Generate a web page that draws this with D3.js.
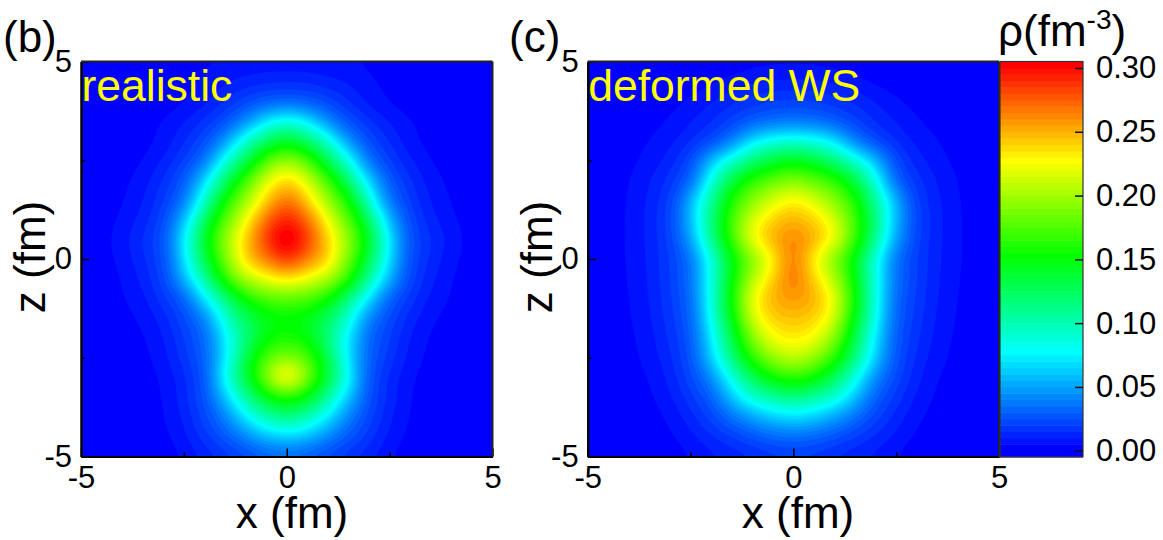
<!DOCTYPE html>
<html><head><meta charset="utf-8">
<script src="https://cdnjs.cloudflare.com/ajax/libs/d3/7.8.5/d3.min.js"></script>
<style>html,body{margin:0;padding:0;background:#fff}svg{display:block}text{font-family:"Liberation Sans",Arial,sans-serif;fill:#000}</style>
</head><body><div id="chart"></div>
<script>
// Half-plane density readings: columns x = 0..5 (mirror-symmetric), rows z = 5..-5
const xColumns = [0,0.5,1,1.5,2,2.5,3,3.5,4,4.5,5];
const zRows = [5,4.5,4,3.5,3,2.5,2,1.5,1,0.5,0,-0.5,-1,-1.5,-2,-2.5,-3,-3.5,-4,-4.5,-5];
const realisticDensity = [
[.0065,.0065,.006,.0055,.004,.002,.001,0,0,0,0],
[.014,.0135,.0115,.009,.006,.0035,.0015,.0005,0,0,0],
[.03,.028,.022,.015,.008,.0045,.002,.001,.0003,0,0],
[.085,.07,.042,.025,.016,.0095,.0055,.0025,.001,0,0],
[.14,.12,.09,.045,.024,.014,.0065,.003,.001,0,0],
[.195,.175,.125,.085,.035,.02,.0105,.005,.002,.001,0],
[.24,.215,.17,.12,.065,.028,.0155,.0075,.0035,.0012,.0005],
[.27,.24,.195,.155,.09,.036,.019,.0095,.0045,.0018,.0007],
[.295,.27,.225,.175,.125,.056,.023,.012,.006,.0025,.001],
[.315,.285,.24,.195,.14,.072,.026,.0155,.008,.003,.001],
[.29,.265,.24,.185,.13,.068,.024,.014,.0065,.0028,.001],
[.235,.222,.205,.165,.105,.055,.022,.0115,.0052,.002,.0008],
[.18,.175,.155,.115,.07,.03,.018,.0085,.0045,.0015,.0005],
[.15,.145,.125,.09,.04,.024,.0125,.006,.003,.001,0],
[.16,.15,.115,.072,.032,.02,.0095,.0043,.002,.0007,0],
[.19,.175,.13,.07,.03,.018,.008,.0035,.0015,0,0],
[.245,.19,.135,.08,.027,.0135,.0058,.0025,.001,0,0],
[.16,.145,.105,.06,.026,.013,.005,.002,.0007,0,0],
[.115,.1,.072,.04,.022,.011,.0045,.0018,.0006,0,0],
[.065,.058,.042,.028,.018,.0085,.0035,.0012,0,0,0],
[.03,.028,.022,.016,.011,.0055,.002,.0008,0,0,0]];
const deformedDensity = [
[.0035,.0035,.003,.002,.001,.0005,0,0,0,0,0],
[.011,.0105,.009,.0065,.004,.002,.001,0,0,0,0],
[.02,.0195,.017,.014,.0095,.006,.003,.0015,.0005,0,0],
[.036,.034,.028,.021,.014,.0095,.0055,.003,.0015,.0005,0],
[.088,.082,.07,.038,.023,.014,.0085,.005,.0025,.001,0],
[.145,.135,.115,.09,.057,.024,.012,.007,.0035,.0015,.0005],
[.19,.178,.165,.13,.085,.03,.017,.0095,.0048,.002,.001],
[.23,.215,.19,.16,.105,.055,.02,.011,.0052,.0023,.001],
[.25,.24,.215,.17,.115,.055,.022,.012,.0055,.0025,.001],
[.265,.25,.225,.17,.11,.05,.021,.0115,.0055,.0025,.001],
[.27,.228,.19,.145,.085,.035,.02,.011,.0055,.0025,.001],
[.27,.24,.205,.148,.085,.035,.02,.0105,.0052,.0023,.001],
[.258,.25,.222,.155,.085,.032,.019,.01,.0048,.002,.0008],
[.245,.24,.215,.145,.082,.03,.018,.009,.0044,.0018,.0007],
[.232,.225,.19,.13,.07,.028,.016,.008,.0038,.0015,.0006],
[.21,.195,.165,.115,.063,.026,.014,.007,.0032,.0012,.0005],
[.165,.155,.125,.085,.042,.023,.0115,.005,.0025,.001,0],
[.115,.105,.09,.06,.03,.018,.009,.004,.0018,.0007,0],
[.068,.062,.05,.035,.022,.013,.006,.0028,.0012,0,0],
[.035,.032,.026,.02,.014,.0085,.004,.0018,.0007,0,0],
[.018,.017,.014,.011,.0085,.005,.002,.001,0,0,0]];
const axisTicks = [-5,0,5];
const axisMinorTicks = [-2.5,2.5];
const colorTicks = [0,0.05,0.10,0.15,0.20,0.25,0.30];
const colorStops = [0,0.075,0.15,0.225,0.30];
const colorStopValues = ["#0000ff","#00ffff","#00ff00","#ffff00","#ff0000"];
const levels = d3.range(0,61).map(i=>i*0.005);

const W=1163,H=540;
const svg=d3.select("#chart").append("svg").attr("width",W).attr("height",H);
const color=d3.scaleLinear().domain(colorStops).range(colorStopValues).clamp(true);
const FS_TICK=31,FS_TITLE=44,FS_NOTE=44.5;

// smoothing of the read-off grid for rendering only (log-space, then a light blur)
const EPS=0.001;
function cr(p0,p1,p2,p3,t){return 0.5*(2*p1+(p2-p0)*t+(2*p0-5*p1+4*p2-p3)*t*t+(3*p1-p0-3*p2+p3)*t*t*t);}
function fullRows(half){return half.map(r=>r.slice(1).reverse().concat(r).map(v=>Math.log(v+EPS)));}
function upsample(rows,k){
  const ny=rows.length,nx=rows[0].length,mx=(nx-1)*k+1,my=(ny-1)*k+1,out=new Float64Array(mx*my);
  const g=(j,i)=>rows[Math.max(0,Math.min(ny-1,j))][Math.max(0,Math.min(nx-1,i))];
  for(let b=0;b<my;b++){const fy=b/k,j=Math.min(ny-2,Math.floor(fy)),ty=fy-j;
    for(let a=0;a<mx;a++){const fx=a/k,i=Math.min(nx-2,Math.floor(fx)),tx=fx-i,col=[];
      for(let s=-1;s<=2;s++)col.push(cr(g(j+s,i-1),g(j+s,i),g(j+s,i+1),g(j+s,i+2),tx));
      out[b*mx+a]=Math.exp(cr(col[0],col[1],col[2],col[3],ty))-EPS;}}
  d3.blur2({data:out,width:mx,height:my},3);
  return {values:out,mx,my};
}

function panel(id,left,right,top,bottom,density,note,tag,tagX,titleX,zTitleX){
  const x=d3.scaleLinear().domain([-5,5]).range([left,right]);
  const z=d3.scaleLinear().domain([-5,5]).range([bottom,top]);
  const g=svg.append("g");
  svg.append("clipPath").attr("id",id).append("rect").attr("x",left).attr("y",top).attr("width",right-left).attr("height",bottom-top);
  const map=g.append("g").attr("clip-path",`url(#${id})`);
  map.append("rect").attr("x",left).attr("y",top).attr("width",right-left).attr("height",bottom-top).attr("fill",color(0));
  const {values,mx,my}=upsample(fullRows(density),8);
  const contours=d3.contours().size([mx,my]).smooth(true).thresholds(levels.slice(1))(values);
  const path=d3.geoPath(d3.geoTransform({point(px,py){
    this.stream.point(x(-5+(px-0.5)*10/(mx-1)),z(5-(py-0.5)*10/(my-1)));}}));
  map.selectAll("path").data(contours).join("path").attr("d",path).attr("fill",d=>color(d.value)).attr("stroke",d=>color(d.value)).attr("stroke-width",0.3);
  // axes
  const ax=g.append("g").attr("transform",`translate(0,${bottom})`).call(d3.axisBottom(x).tickValues(axisTicks).tickFormat(String).tickSizeInner(-8).tickSizeOuter(0).tickPadding(9));
  const ay=g.append("g").attr("transform",`translate(${left},0)`).call(d3.axisLeft(z).tickValues(axisTicks).tickFormat(String).tickSizeInner(-8).tickSizeOuter(0).tickPadding(9));
  const mxA=g.append("g").attr("transform",`translate(0,${bottom})`).call(d3.axisBottom(x).tickValues(axisMinorTicks).tickFormat("").tickSizeInner(-4).tickSizeOuter(0));
  const myA=g.append("g").attr("transform",`translate(${left},0)`).call(d3.axisLeft(z).tickValues(axisMinorTicks).tickFormat("").tickSizeInner(-4).tickSizeOuter(0));
  [ax,ay,mxA,myA].forEach(a=>{a.selectAll("text").attr("font-size",FS_TICK).attr("font-family",'"Liberation Sans"');a.selectAll("line").attr("stroke","#000").attr("stroke-width",1.5);a.select(".domain").attr("stroke","#000").attr("stroke-width",2);});
  g.append("line").attr("x1",left).attr("x2",right).attr("y1",top).attr("y2",top).attr("stroke","#222").attr("stroke-width",2);
  g.append("line").attr("x1",right).attr("x2",right).attr("y1",top).attr("y2",bottom).attr("stroke","#222").attr("stroke-width",2);
  g.append("text").attr("x",left+0.5).attr("y",101).attr("font-size",FS_NOTE).style("fill","#ffff00").text(note);
  g.append("text").attr("x",tagX).attr("y",52).attr("font-size",FS_TITLE).text(tag);
  g.append("text").attr("x",titleX).attr("y",528).attr("text-anchor","middle").attr("font-size",FS_TITLE).text("x (fm)");
  g.append("text").attr("transform",`translate(${zTitleX},257) rotate(-90)`).attr("text-anchor","middle").attr("font-size",FS_TITLE).text("z (fm)");
}
panel("clipB",81,492.5,61.5,456.5,realisticDensity,"realistic","(b)",3,292,45);
panel("clipC",587.7,999,61.5,456.5,deformedDensity,"deformed WS","(c)",509,798,552);

// colour bar
const cbL=1000,cbR=1083;
const cy=d3.scaleLinear().domain([0,0.30]).range([450.7,68]);
const bar=svg.append("g");
const bands=[-0.005].concat(levels);
bar.selectAll("rect").data(bands).join("rect")
  .attr("x",cbL).attr("width",cbR-cbL)
  .attr("y",d=>Math.max(61.5,cy(d+0.005)))
  .attr("height",d=>cy(d)-Math.max(61.5,cy(d+0.005))+0.5)
  .attr("fill",d=>color(Math.max(0,d)));
bar.append("rect").attr("x",cbL).attr("y",61.5).attr("width",cbR-cbL).attr("height",395.2).attr("fill","none").attr("stroke","#333").attr("stroke-width",1.2);
const cAxis=bar.append("g").attr("transform",`translate(${cbR},0)`).call(d3.axisRight(cy).tickValues(colorTicks).tickFormat(d3.format(".2f")).tickSizeInner(-8).tickSizeOuter(0).tickPadding(13));
cAxis.select(".domain").remove();
cAxis.selectAll("text").attr("font-size",FS_TICK).attr("font-family",'"Liberation Sans"');
cAxis.selectAll("line").attr("stroke","#111").attr("stroke-width",1.5);
const t=svg.append("text").attr("x",998).attr("y",46).attr("font-size",FS_TITLE);
t.append("tspan").text("ρ(fm");
t.append("tspan").attr("font-size",28).attr("dy",-17).text("-3");
t.append("tspan").attr("dy",17).text(")");
</script></body></html>
